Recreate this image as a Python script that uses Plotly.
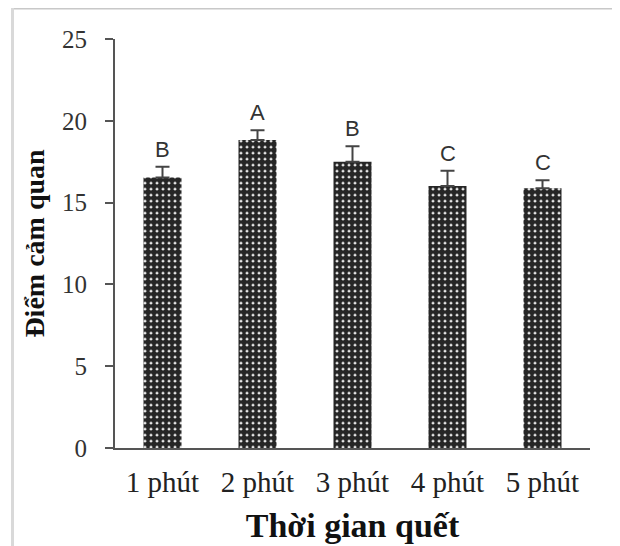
import plotly.graph_objects as go

categories = ["1 phút", "2 phút", "3 phút", "4 phút", "5 phút"]
scores = [16.54, 18.82, 17.49, 16.02, 15.87]
errors = [0.65, 0.61, 0.96, 0.92, 0.50]
letters = ["B", "A", "B", "C", "C"]
y_ticks = [0, 5, 10, 15, 20, 25]

# page body has an 8px margin; the figure is sized to fill the rest of the window
OFF = 8
W, H = 620 - OFF, 546 - OFF
ML, MR, MT, MB = 115 - OFF, 30, 39 - OFF, 98
PW = W - ML - MR
PH = H - MT - MB

fig = go.Figure()
fig.add_trace(go.Bar(
    x=categories, y=scores, width=0.4,
    marker=dict(color="white", line=dict(width=0),
                pattern=dict(shape=".", fgcolor="#262626", bgcolor="white",
                             size=6, solidity=0.8, fillmode="replace")),
    error_y=dict(type="data", symmetric=False, array=errors,
                 arrayminus=[0] * len(errors),
                 color="#444444", thickness=2, width=7),
    showlegend=False,
))

for c, v, e, t in zip(categories, scores, errors, letters):
    fig.add_annotation(x=c, y=v + e, text=t, showarrow=False,
                       yanchor="bottom", yshift=3,
                       font=dict(family="Liberation Sans", size=22, color="#333333"))


def px_to_paper_x(px):
    return (px - OFF - ML) / PW


def px_to_paper_y(py):
    return (H - MB - (py - OFF)) / PH


frame = dict(type="line", xref="paper", yref="paper")
fig.add_shape(**frame, x0=px_to_paper_x(12), x1=px_to_paper_x(620), y0=px_to_paper_y(8.5), y1=px_to_paper_y(8.5),
              line=dict(color="#c8c8c8", width=2))
fig.add_shape(**frame, x0=px_to_paper_x(12.5), x1=px_to_paper_x(12.5), y0=px_to_paper_y(7.5), y1=px_to_paper_y(560),
              line=dict(color="#d9d9d9", width=3))
fig.add_shape(**frame, x0=px_to_paper_x(617), x1=px_to_paper_x(617), y0=px_to_paper_y(7.5), y1=px_to_paper_y(560),
              line=dict(color="#efefef", width=2))

fig.update_layout(
    width=W, height=H,
    margin=dict(l=ML, r=MR, t=MT, b=MB),
    paper_bgcolor="white", plot_bgcolor="white",
    font=dict(family="Liberation Serif", color="#222222"),
)
fig.update_xaxes(
    automargin=False,
    showline=True, linecolor="#555555", linewidth=2,
    ticks="", showgrid=False,
    tickfont=dict(family="Liberation Serif", size=29, color="#222222"),
    ticklabelstandoff=7,
    title=dict(text="<b>Thời gian quết</b>", standoff=16,
               font=dict(family="Liberation Serif", size=34, color="#111111")),
    range=[-0.5, 4.5],
)
fig.update_yaxes(
    automargin=False,
    range=[0, 25], tickvals=y_ticks,
    showline=True, linecolor="#555555", linewidth=2,
    ticks="outside", ticklen=8, tickwidth=2, tickcolor="#555555",
    showgrid=False, zeroline=False,
    tickfont=dict(family="Liberation Serif", size=25, color="#333333"),
    ticklabelstandoff=13,
    title=dict(text="<b>Điểm cảm quan</b>", standoff=9,
               font=dict(family="Liberation Serif", size=28, color="#111111")),
)

fig.write_html("out.html")
